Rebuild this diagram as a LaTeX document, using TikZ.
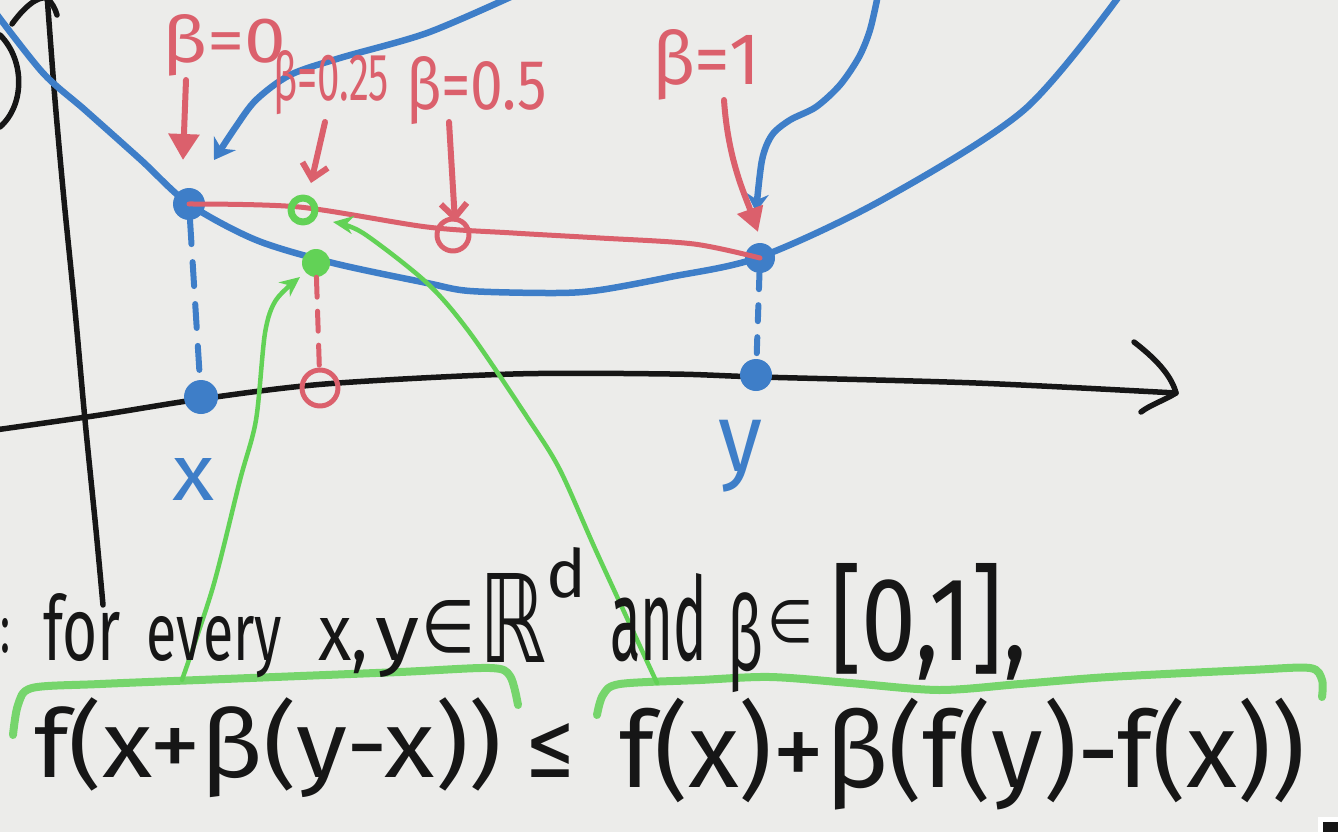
\documentclass[tikz,border=0pt]{standalone}
\usepackage{fontspec}
\usepackage{graphicx}
\setmainfont{Fira Sans}
\newfontfamily\dv{DejaVu Sans}
\usetikzlibrary{arrows.meta}
\definecolor{bg}{RGB}{236,236,234}
\definecolor{pblue}{RGB}{62,126,200}
\definecolor{pred}{RGB}{219,96,108}
\definecolor{pgreen}{RGB}{98,210,86}
\definecolor{pblack}{RGB}{22,22,22}
\begin{document}
\begin{tikzpicture}[x=1pt,y=-1pt,line cap=round,line join=round,
  axisline/.style={pblack,line width=5.5pt},
  bluecurve/.style={pblue,line width=6.5pt},
  bdot/.style={circle,fill=pblue,inner sep=0pt,draw=none},
  gdot/.style={circle,fill=pgreen,inner sep=0pt,draw=none},
  gring/.style={circle,draw=pgreen,line width=7pt,inner sep=0pt},
  rring/.style={circle,draw=pred,line width=5pt,inner sep=0pt},
  bluedash/.style={pblue,line width=6pt,dash pattern=on 24pt off 18pt},
  reddash/.style={pred,line width=5pt,dash pattern=on 20pt off 14pt},
  redline/.style={pred,line width=5pt},
  redarrowf/.style={pred,line width=6pt,-{Triangle[length=26pt,width=30pt]}},
  redarrowv/.style={pred,line width=6pt,-{Straight Barb[length=14pt,width=26pt,line width=6pt]}},
  garrow/.style={pgreen,line width=4.5pt,-{Stealth[length=20pt,width=18pt]}},
  gbrace/.style={pgreen,line width=8pt,opacity=0.85},
  hw/.style={inner sep=0pt,outer sep=0pt},
]
% background and bounding box
\fill[bg] (0,0) rectangle (1338,832);
\useasboundingbox (0,0) rectangle (1338,832);

% black axes
\draw[axisline] (0,35) .. controls (25,60) and (25,105) .. (0,127);
\draw[axisline] (12,24) .. controls (25,6) and (38,-4) .. (47,-2) .. controls (52,3) and (55,8) .. (57,15);
\draw[axisline] plot[smooth] coordinates {(47,-5) (55,100) (64,200) (75,310) (85,420) (96,530) (103,605)};
\draw[axisline] plot[smooth] coordinates {(-5,430) (100,415) (201,399) (325,384) (513,374) (670,374) (760,377) (976,383) (1176,393)};
\draw[axisline] (1134,342) .. controls (1160,362) and (1172,378) .. (1176,393) .. controls (1165,400) and (1150,405) .. (1141,412);

% blue function curve
\draw[bluecurve] plot[smooth] coordinates {(-5,12) (43,73) (85,110) (141,160) (189,204) (256,240) (333,263) (427,283) (470,291) (556,293) (600,290) (670,277) (760,257) (882,200) (1024,110) (1120,-5)};
% blue pointer curves from the top
\coordinate (b1s) at (515,-5);
\coordinate (b1e) at (214,160);
\draw[bluecurve,-{Stealth[length=20pt,width=26pt]}] plot[smooth] coordinates {(b1s) (427,33) (340,58) (290,75) (256,100) (235,128) (b1e)};
\coordinate (b2s) at (878,-5);
\coordinate (b2e) at (756,212);
\draw[bluecurve,-{Stealth[length=18pt,width=22pt]}] plot[smooth] coordinates {(b2s) (870,30) (859,57) (840,85) (816,107) (790,120) (772,135) (762,160) (b2e)};

% points
\node[bdot,minimum size=32pt] (fx) at (189,204) {};
\node[bdot,minimum size=30pt] (fy) at (760,258) {};
\node[bdot,minimum size=34pt] (xa) at (201,397) {};
\node[bdot,minimum size=32pt] (ya) at (756,375) {};

% dashed projections
\draw[bluedash] (fx) -- (xa);
\draw[bluedash,dash pattern=on 16pt off 16pt] (fy) -- (ya);

% red chord
\draw[redline] plot[smooth] coordinates {(fx.center) (299,207) (427,227) (513,233) (600,238) (694,244) (fy.center)};

% green point on curve, rings
\node[gdot,minimum size=28pt] (fz) at (316,263) {};
\node[rring,minimum size=36pt] (za) at (320,388) {};
\draw[reddash] (fz) -- (za);
\node[rring,minimum size=32pt] (c5) at (453,235) {};
\node[gring,minimum size=24pt] (cz) at (303,210) {};

% red labels
\node[hw,anchor=base west,text=pred] (l0) at (162,63) {\resizebox{124pt}{48pt}{β=0}};
\node[hw,anchor=base west,text=pred] (l25) at (273,100) {\resizebox{116pt}{50pt}{β=0.25}};
\node[hw,anchor=base west,text=pred] (l5) at (406,110) {\resizebox{141pt}{53pt}{β=0.5}};
\node[hw,anchor=base west,text=pred] (l1) at (652,85) {\resizebox{108pt}{55pt}{β=1}};

% red arrows
\coordinate (a0s) at (186,80);
\coordinate (a0e) at (183,160);
\draw[redarrowf] (a0s) -- (a0e);
\coordinate (a25s) at (325,122);
\coordinate (a25e) at (311,183);
\draw[redarrowv] (a25s) -- (a25e);
\coordinate (a5s) at (449,122);
\coordinate (a5e) at (455,222);
\draw[redarrowv] (a5s) -- (a5e);
\coordinate (a1s) at (724,100);
\coordinate (a1e) at (758,232);
\draw[redarrowf,-{Triangle[length=24pt,width=26pt]}] (a1s) .. controls (728,160) and (745,195) .. (a1e);

% blue axis labels
\node[hw,anchor=base west,text=pblue] (xl) at (172,500) {\resizebox{42pt}{42pt}{x}};
\node[hw,anchor=north west,text=pblue] (yl) at (718,420) {\resizebox*{44pt}{72pt}{y}};

% green braces
\draw[gbrace] plot[smooth] coordinates {(13,735) (18,705) (32,688) (100,684) (250,678) (400,672) (490,668) (510,676) (518,705)};
\draw[gbrace] plot[smooth] coordinates {(597,715) (603,695) (620,684) (700,680) (770,677) (850,683) (939,690) (1020,684) (1109,677) (1250,670) (1310,668) (1322,680) (1322,697)};
\coordinate (lbt) at (182,680);
\coordinate (rbt) at (657,683);
\draw[garrow] plot[smooth] coordinates {(lbt) (213,587) (240,480) (256,420) (265,333) (276,300) (300,277)};
\draw[garrow] plot[smooth] coordinates {(rbt) (597,553) (560,470) (529,420) (470,333) (427,283) (363,233) (333,222)};

% text row
\begin{scope}[every node/.style={hw,text=pblack}]
\node[anchor=base west] (colon) at (0,652) {\resizebox{10pt}{34pt}{:}};
\node[anchor=base west] (wfor) at (43,660) {\resizebox{78pt}{67pt}{for}};
\node[anchor=base west] (wevery) at (146,660) {\resizebox{136pt}{44pt}{every}};
\node[anchor=base west] (wxc) at (318,660) {\resizebox{50pt}{42pt}{x,}};
\node[anchor=base west] (wy) at (375,660) {\resizebox{44pt}{42pt}{y}};
\node[anchor=base west] (win) at (421,652) {\resizebox{54pt}{52pt}{\dv ∈}};
\node[anchor=base west] (wR) at (479,662) {\resizebox{67pt}{89pt}{\dv ℝ}};
\node[anchor=base west] (wd) at (546,597) {\resizebox{40pt}{50pt}{d}};
\node[anchor=base west] (wand) at (610,660) {\resizebox{97pt}{87pt}{and}};
\node[anchor=north west] (wbeta) at (727,593) {\resizebox*{36pt}{100pt}{β}};
\node[anchor=base west] (win2) at (767,642) {\resizebox{46pt}{42pt}{\dv ∈}};
\node[anchor=base west] (wint) at (830,660) {\resizebox{197pt}{97pt}{[0,1],}};
% formula
\node[anchor=north west] (lhs) at (34,698) {\resizebox*{468pt}{100pt}{f(x+β(y-x))}};
\node[anchor=north west] (leq) at (525,723) {\resizebox*{50pt}{54pt}{\dv ≤}};
\node[anchor=north west] (rhs) at (619,698) {\resizebox*{686pt}{112pt}{f(x)+β(f(y)-f(x))}};
\end{scope}

% corner artifact
\fill[white] (1318,817) rectangle (1338,832);
\fill[pblack] (1323,822) rectangle (1338,832);
\end{tikzpicture}
\end{document}
